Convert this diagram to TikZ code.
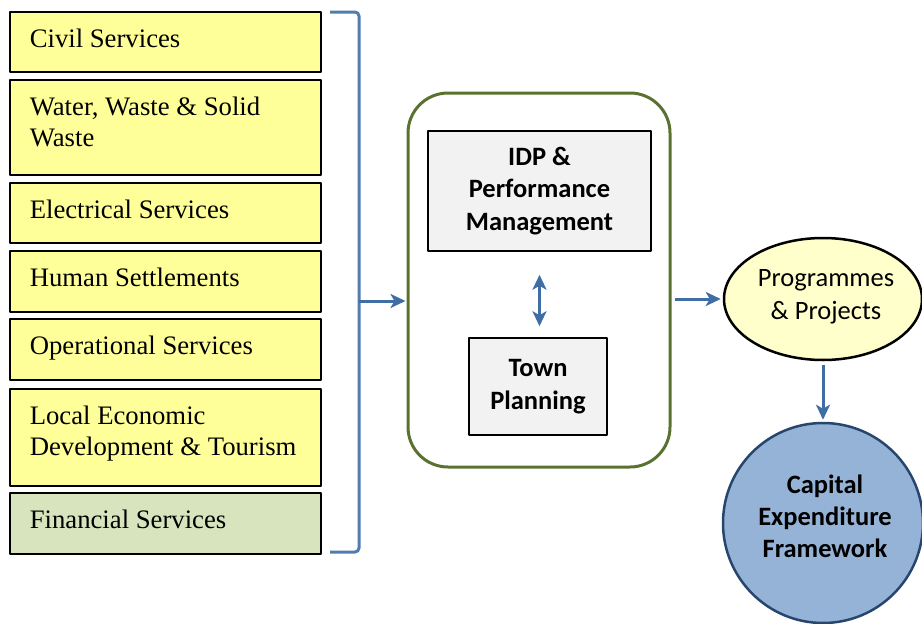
\documentclass[tikz,border=0pt]{standalone}
\usepackage{fontspec}
\setmainfont{Liberation Serif}
\newfontfamily\calibri{Carlito}
\usetikzlibrary{shapes.geometric,arrows.meta}
\definecolor{svcyel}{HTML}{FFFF99}
\definecolor{fingreen}{HTML}{D7E4BD}
\definecolor{olivedge}{HTML}{5A7230}
\definecolor{arrblue}{HTML}{3F6EA5}
\definecolor{progyel}{HTML}{FFFFCC}
\definecolor{capfill}{HTML}{95B3D7}
\definecolor{capedge}{HTML}{27466E}
\begin{document}
\begin{tikzpicture}[x=1pt,y=-1pt,line join=round,
	>={Stealth[length=15pt,width=14pt,inset=4pt]},
	svc/.style={draw=black,line width=1.8pt,minimum width=311pt,inner sep=0pt},
	svctxt/.style={anchor=north west,align=left,inner xsep=20.5pt,inner ysep=17.5pt,
		font=\fontsize{26.7}{31.5}\selectfont},
	grey/.style={draw=black,line width=1.5pt,fill=black!5,align=center,inner sep=0pt,
		font=\calibri\bfseries\fontsize{26.5}{32.5}\selectfont},
	flow/.style={->,draw=arrblue,line width=3pt}]
	
	\useasboundingbox (0,0) rectangle (922,624);
	
	% services on the left
	\foreach \nm/\ya/\yb/\fc/\txt in {civil/12/72/svcyel/{Civil Services},
		water/80/175/svcyel/{Water, Waste \& Solid\\Waste},
		elec/183/243/svcyel/{Electrical Services},
		human/251/312/svcyel/{Human Settlements},
		oper/319/380/svcyel/{Operational Services},
		led/389/486/svcyel/{Local Economic\\Development \& Tourism},
		fin/493/554/fingreen/{Financial Services}}
	{
		\node[svc,fill=\fc,minimum height=\yb-\ya] (\nm) at (165.5,{(\ya+\yb)/2}) {};
		\node[svctxt] (\nm-t) at (\nm.north west) {\txt};
	}
	
	% bracket
	\draw[arrblue!90,line width=3pt,rounded corners=4pt] (330,12) -- (359,12) -- (359,552) -- (330,552);
	\coordinate (brk) at (359,301);
	
	% planning block
	\node[draw=olivedge,line width=3pt,rounded corners=40pt,minimum width=262pt,minimum height=374pt] (plan) at (539,280) {};
	\node[grey,minimum width=223pt,minimum height=120pt] (idp) at (539.5,191) {IDP \&\\Performance\\Management};
	\node[grey,minimum width=138pt,minimum height=97pt] (town) at (538,386.5) {Town\\Planning};
	\draw[flow,<->,shorten <=23pt,shorten >=11pt] (idp.south) -- (idp.south |- town.north);
	
	% outputs
	\node[ellipse,draw=black,line width=2.5pt,fill=progyel,minimum width=198pt,minimum height=122pt,
		inner sep=0pt,align=center,font=\calibri\fontsize{26.5}{33}\selectfont] (prog) at (823,299) {};
	\node[align=center,font=\calibri\fontsize{26.5}{33}\selectfont] (prog-t) at ([xshift=3pt,yshift=2pt]prog.center) {Programmes\\\& Projects};
	\node[circle,draw=capedge,line width=2.5pt,fill=capfill,minimum size=200pt,inner sep=0pt] (capex) at (823,523) {};
	\node[align=center,font=\calibri\bfseries\fontsize{26.5}{32}\selectfont] (capex-t) at ([xshift=2pt,yshift=7pt]capex.center) {Capital\\Expenditure\\Framework};
	
	\draw[flow,shorten >=1pt] (brk) -- (brk -| plan.west);
	\draw[flow,shorten <=3pt,shorten >=2pt] (plan.east |- prog.west) -- (prog.west);
	\draw[flow,shorten <=4pt,shorten >=2pt] (prog.south) -- (capex.north);
\end{tikzpicture}
\end{document}
